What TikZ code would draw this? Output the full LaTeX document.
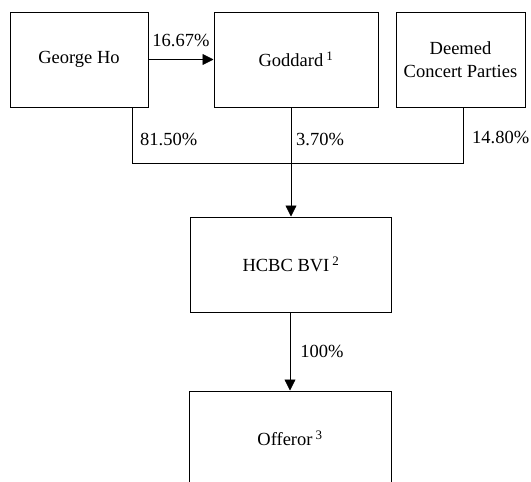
\documentclass[tikz,border=0pt]{standalone}
\usepackage{fontspec}
\setmainfont{Liberation Serif}
\usetikzlibrary{arrows.meta}

\begin{document}
\begin{tikzpicture}[x=1pt, y=-1pt,
    entity/.style={draw, rectangle, line width=1pt, inner sep=0pt, align=center, font=\fontsize{18.5}{23}\selectfont},
    share/.style={inner sep=0pt, font=\fontsize{18.5}{23}\selectfont},
    link/.style={line width=0.8pt},
    holding/.style={line width=0.8pt, -{Triangle[length=11pt, width=11pt]}}]
    \useasboundingbox (0,0) rectangle (531,482);
    \clip (0,0) rectangle (531,482);

    \node[entity, minimum width=138pt, minimum height=95pt] at (79,59.5) (georgeho) {George Ho};
    \node[entity, minimum width=164pt, minimum height=95pt] at (296,59.5) (goddard) {Goddard\,\textsuperscript{1}};
    \node[entity, minimum width=129pt, minimum height=95pt] at (460.5,59.5) (deemed) {Deemed\\Concert Parties};
    \node[entity, minimum width=201pt, minimum height=95pt] at (291,264.5) (hcbcbvi) {HCBC BVI\,\textsuperscript{2}};
    \node[entity, minimum width=202pt, minimum height=95pt] at (290,438.5) (offeror) {Offeror\,\textsuperscript{3}};

    \coordinate (georgejoin) at (132,163);
    \coordinate (deemedjoin) at (463,163);

    \draw[holding] (georgeho.east) -- (goddard.west) node[midway, share, above=12pt] {16.67\%};
    \draw[link] (georgejoin |- georgeho.south) -- (georgejoin) -- (deemedjoin) -- (deemedjoin |- deemed.south);
    \draw[holding] (hcbcbvi.north |- goddard.south) -- (hcbcbvi.north);
    \draw[holding] (offeror.north |- hcbcbvi.south) -- (offeror.north) node[midway, share, right=10pt] {100\%};

    \node[share, anchor=west] at (140,139) (georgeshare) {81.50\%};
    \node[share, anchor=west] at (296,139) (goddardshare) {3.70\%};
    \node[share, anchor=west] at (472,137) (deemedshare) {14.80\%};
\end{tikzpicture}
\end{document}
